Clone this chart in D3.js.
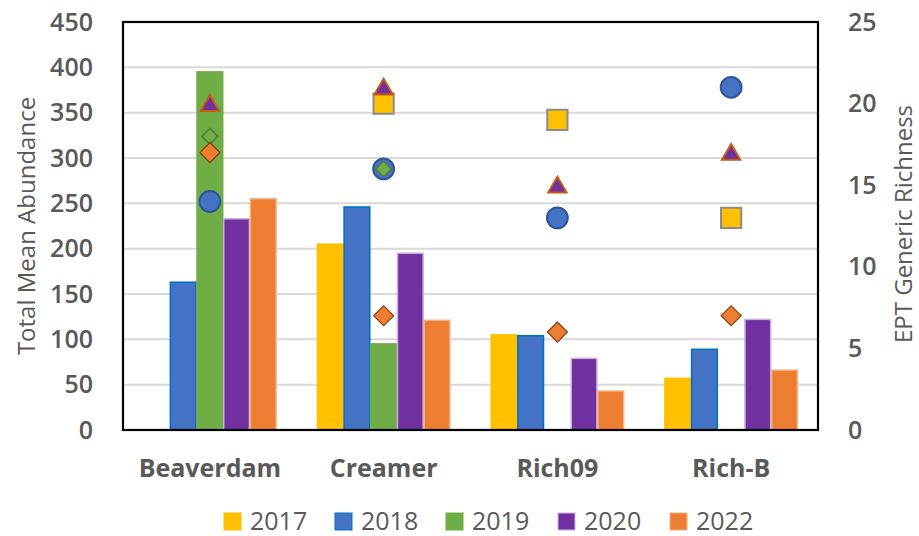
<!DOCTYPE html>
<html>
<head>
<meta charset="utf-8">
<script src="https://cdn.jsdelivr.net/npm/d3@7"></script>
<style>
  body { margin: 0; background: #fff; }
  svg { display: block; }
  text { font-family: "Open Sans", "Liberation Sans", sans-serif; fill: #595959; }
</style>
</head>
<body>
<svg id="chart" width="919" height="536"></svg>
<script>
// Sites and sampling years
const sites = ["Beaverdam", "Creamer", "Rich09", "Rich-B"];
const years = ["2017", "2018", "2019", "2020", "2022"];

// Total mean abundance per year (bars, left axis); null = not sampled
const abund2017 = [null, 205, 105, 57];
const abund2018 = [163, 246, 104, 89];
const abund2019 = [395, 95, null, null];
const abund2020 = [233, 195, 79, 122];
const abund2022 = [255, 121, 43, 66];

// EPT generic richness per year (markers, right axis)
const rich2017 = [null, 20, 19, 13];
const rich2018 = [14, 16, 13, 21];
const rich2019 = [18, 16, null, null];
const rich2020 = [20, 21, 15, 17];
const rich2022 = [17, 7, 6, 7];

const leftTicks = [0, 50, 100, 150, 200, 250, 300, 350, 400, 450];
const rightTicks = [0, 5, 10, 15, 20, 25];

const abundance = [abund2017, abund2018, abund2019, abund2020, abund2022];
const richness = [rich2017, rich2018, rich2019, rich2020, rich2022];

const fill = { "2017": "#FFC000", "2018": "#4472C4", "2019": "#70AD47", "2020": "#7030A0", "2022": "#ED7D31" };
const barStroke = { "2017": "#FFC000", "2018": "#0070C0", "2019": "#70AD47", "2020": "#C9B3DD", "2022": "#F4B183" };

const svg = d3.select("#chart");
const plot = { left: 123, right: 818, top: 22, bottom: 430 };

const x = d3.scaleBand().domain(sites).range([plot.left, plot.right]).paddingInner(0).paddingOuter(0);
const xb = d3.scaleBand().domain(years).range([0, x.bandwidth()]).paddingInner(0).paddingOuter(0.755);
const yL = d3.scaleLinear().domain([0, 450]).range([plot.bottom, plot.top]);
const yR = d3.scaleLinear().domain([0, 25]).range([plot.bottom, plot.top]);

// Gridlines
svg.append("g")
  .selectAll("line")
  .data(leftTicks.slice(1))
  .join("line")
  .attr("x1", plot.left).attr("x2", plot.right)
  .attr("y1", d => yL(d)).attr("y2", d => yL(d))
  .attr("stroke", "#D9D9D9").attr("stroke-width", 2);

// Bars
const barData = [];
years.forEach((yr, i) => sites.forEach((s, j) => {
  const v = abundance[i][j];
  if (v != null) barData.push({ year: yr, site: s, value: v });
}));
svg.append("g")
  .selectAll("rect")
  .data(barData)
  .join("rect")
  .attr("x", d => x(d.site) + xb(d.year) + 0.5)
  .attr("width", xb.bandwidth() - 1)
  .attr("y", d => yL(d.value))
  .attr("height", d => yL(0) - yL(d.value))
  .attr("fill", d => fill[d.year])
  .attr("stroke", d => barStroke[d.year])
  .attr("stroke-width", 1.5);

// Plot border
svg.append("rect")
  .attr("x", plot.left).attr("y", plot.top)
  .attr("width", plot.right - plot.left).attr("height", plot.bottom - plot.top)
  .attr("fill", "none").attr("stroke", "#000").attr("stroke-width", 2.2);

// Richness markers, drawn in series order; diamonds are squares turned 45°
const markerStyle = {
  "2017": { type: d3.symbolSquare, size: 410, rot: 0, fill: "#FFC000", stroke: "#8C8C8C", sw: 2 },
  "2018": { type: d3.symbolCircle, size: 340, rot: 0, fill: "#4472C4", stroke: "#2F5597", sw: 2 },
  "2019": { type: d3.symbolSquare, size: 125, rot: 45, fill: "#70AD47", stroke: "#507E32", sw: 1.5 },
  "2020": { type: d3.symbolTriangle, size: 145, rot: 0, fill: "#7030A0", stroke: "#C55A11", sw: 2 },
  "2022": { type: d3.symbolSquare, size: 200, rot: 45, fill: "#ED7D31", stroke: "#843C0C", sw: 1.2 }
};
const markerOrder = ["2017", "2018", "2019", "2020", "2022"];
markerOrder.forEach(yr => {
  const i = years.indexOf(yr);
  const st = markerStyle[yr];
  const pts = sites.map((s, j) => ({ site: s, value: richness[i][j] })).filter(d => d.value != null);
  svg.append("g")
    .selectAll("path")
    .data(pts)
    .join("path")
    .attr("d", d3.symbol().type(st.type).size(st.size))
    .attr("transform", d => `translate(${x(d.site) + x.bandwidth() / 2},${yR(d.value) + (yr === "2020" ? 2 : 0)}) rotate(${st.rot})`)
    .attr("fill", st.fill)
    .attr("stroke", st.stroke)
    .attr("stroke-width", st.sw);
});

// Left axis labels
const leftAxis = svg.append("g")
  .attr("transform", `translate(${plot.left - 30},0)`)
  .call(d3.axisLeft(yL).tickValues(leftTicks).tickSize(0).tickPadding(0));
leftAxis.select(".domain").remove();
leftAxis.selectAll("text")
  .attr("font-size", 25).attr("font-weight", 600).attr("fill", "#595959")
  .style("font-family", "'Open Sans', sans-serif");

// Right axis labels
const rightAxis = svg.append("g")
  .attr("transform", `translate(${plot.right + 30},0)`)
  .call(d3.axisRight(yR).tickValues(rightTicks).tickSize(0).tickPadding(0));
rightAxis.select(".domain").remove();
rightAxis.selectAll("text")
  .attr("font-size", 25).attr("font-weight", 600).attr("fill", "#595959")
  .style("font-family", "'Open Sans', sans-serif");

// Category labels
const xAxis = svg.append("g")
  .attr("transform", `translate(0,${plot.bottom + 29})`)
  .call(d3.axisBottom(x).tickSize(0).tickPadding(0));
xAxis.select(".domain").remove();
xAxis.selectAll("text")
  .attr("font-size", 25).attr("font-weight", 700).attr("fill", "#595959")
  .style("font-family", "'Open Sans', sans-serif");

// Axis titles
svg.append("text")
  .attr("transform", `translate(35,${(plot.top + plot.bottom) / 2}) rotate(-90)`)
  .attr("text-anchor", "middle")
  .attr("font-size", 24)
  .text("Total Mean Abundance");
svg.append("text")
  .attr("transform", `translate(912,${(plot.top + plot.bottom) / 2 - 2}) rotate(-90)`)
  .attr("text-anchor", "middle")
  .attr("font-size", 24)
  .text("EPT Generic Richness");

// Legend
const legendX = [224, 335, 446, 558, 670];
const legend = svg.append("g");
years.forEach((yr, i) => {
  const g = legend.append("g").attr("transform", `translate(${legendX[i]},521)`);
  g.append("rect").attr("x", 0).attr("y", -8).attr("width", 17).attr("height", 17)
    .attr("fill", fill[yr]).attr("stroke", barStroke[yr]).attr("stroke-width", 1);
  g.append("text").attr("x", 26).attr("dy", "0.35em").attr("font-size", 25).text(yr);
});
</script>
</body>
</html>
